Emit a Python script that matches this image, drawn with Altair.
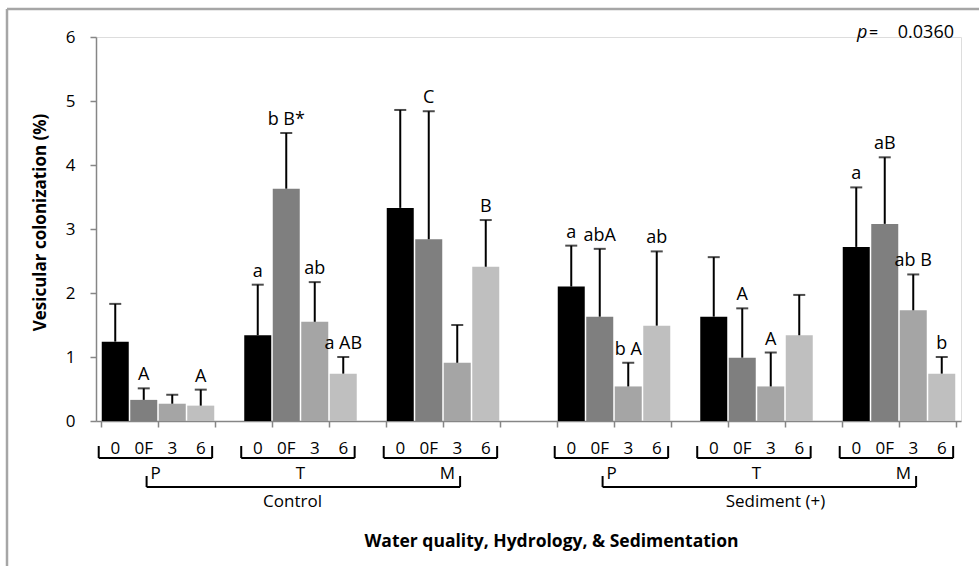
import altair as alt
import pandas as pd

FONT = "Open Sans"

blocks = ["Control", "Sediment (+)"]
sites = ["P", "T", "M"]
treatments = ["0", "0F", "3", "6"]
bar_colors = ["#000000", "#7f7f7f", "#a5a5a5", "#bfbfbf"]

# Mean colonization (%), ordered block -> site -> treatment
means = [1.24, 0.33, 0.27, 0.24,
         1.34, 3.63, 1.55, 0.74,
         3.33, 2.84, 0.91, 2.41,
         2.10, 1.63, 0.54, 1.49,
         1.63, 0.99, 0.54, 1.34,
         2.72, 3.08, 1.73, 0.74]

# Mean + standard error
upper = [1.83, 0.51, 0.41, 0.49,
         2.13, 4.50, 2.17, 1.00,
         4.86, 4.84, 1.50, 3.14,
         2.74, 2.69, 0.91, 2.65,
         2.56, 1.76, 1.07, 1.97,
         3.65, 4.12, 2.29, 1.00]

# Significance letters
letters = ["", "A", "", "A",
           "a", "b B*", "ab", "a AB",
           "", "C", "", "B",
           "a", "abA", "b A", "ab",
           "", "A", "A", "",
           "a", "aB", "ab B", "b"]

p_value = "0.0360"

# Category slots: 4 bars per site, one empty slot between sites,
# two empty slots between the two blocks (30 slots in total).
rows = []
i = 0
for b, block in enumerate(blocks):
    for s, site in enumerate(sites):
        for t, trt in enumerate(treatments):
            slot = b * 16 + s * 5 + t
            rows.append({"block": block, "site": site, "trt": trt,
                         "xc": slot + 0.5, "mean": means[i], "upper": upper[i],
                         "letter": letters[i]})
            i += 1
df = pd.DataFrame(rows)

site_rows = []
for b, block in enumerate(blocks):
    for s, site in enumerate(sites):
        start = b * 16 + s * 5
        site_rows.append({"block": block, "site": site,
                          "x0": start - 0.08, "x1": start + 4 - 0.1,
                          "center": start + 2})
sites_df = pd.DataFrame(site_rows)

block_rows = []
for b, block in enumerate(blocks):
    first = b * 16 + 2
    last = b * 16 + 12
    block_rows.append({"block": block, "x0": first - 0.4, "x1": last + 0.6,
                       "mid": b * 16 + 7})
blocks_df = pd.DataFrame(block_rows)

N_SLOTS = 30
W, H = 865, 384
PAD_L, PAD_T = 96, 37
LBL = 17  # label font size

x_scale = alt.Scale(domain=[0, N_SLOTS], nice=False, zero=False)
y_scale = alt.Scale(domain=[0, 6], nice=False)

x_axis = alt.Axis(values=list(range(N_SLOTS + 1)), labels=False, grid=False,
                  tickSize=6, tickColor="#868686", domainColor="#868686",
                  domainWidth=1.5, tickWidth=1.5,
                  title="Water quality, Hydrology, & Sedimentation",
                  titleFont=FONT, titleFontSize=17.5, titleFontWeight="bold",
                  titleColor="#000000", titleX=455, titleY=120,
                  titleBaseline="middle", titleAlign="center")
y_axis = alt.Axis(values=[0, 1, 2, 3, 4, 5, 6], format="d", grid=False,
                  tickSize=6, tickColor="#868686", domainColor="#868686",
                  domainWidth=1.5, tickWidth=1.5,
                  labelFont=FONT, labelFontSize=LBL, labelColor="#000000",
                  labelPadding=15,
                  title="Vesicular colonization (%)", titleFont=FONT,
                  titleFontSize=17, titleFontWeight="bold", titleColor="#000000",
                  titleX=-56, titleY=185, titleAngle=-90,
                  titleBaseline="middle", titleAlign="center")

base = alt.Chart(df)

bars = base.mark_bar(width=27).encode(
    x=alt.X("xc:Q", scale=x_scale, axis=x_axis),
    y=alt.Y("mean:Q", scale=y_scale, axis=y_axis),
    color=alt.Color("trt:N", scale=alt.Scale(domain=treatments, range=bar_colors),
                    legend=None),
)

err = base.mark_rule(color="black", strokeWidth=2).encode(
    x="xc:Q", y="mean:Q", y2="upper:Q"
)
caps = base.mark_tick(color="black", thickness=2, size=12,
                      orient="horizontal").encode(x="xc:Q", y="upper:Q")

labels = base.transform_filter(alt.datum.letter != "").mark_text(
    font=FONT, fontSize=18, baseline="alphabetic", dy=-8, color="black"
).encode(x="xc:Q", y="upper:Q", text="letter:N")

# First row under the axis: treatment names with a bracket per site
trt_text = base.mark_text(font=FONT, fontSize=LBL, baseline="middle",
                          color="black").encode(
    x="xc:Q", y=alt.value(449 - PAD_T), text="trt:N")

sb = alt.Chart(sites_df)
site_h = sb.mark_rule(color="black", strokeWidth=2).encode(
    x="x0:Q", x2="x1:Q", y=alt.value(458 - PAD_T))
site_l = sb.mark_rule(color="black", strokeWidth=2).encode(
    x="x0:Q", y=alt.value(446 - PAD_T), y2=alt.value(458 - PAD_T))
site_r = sb.mark_rule(color="black", strokeWidth=2).encode(
    x="x1:Q", y=alt.value(446 - PAD_T), y2=alt.value(458 - PAD_T))

# Second row: site names with a bracket per block
bb = alt.Chart(blocks_df)
blk_h = bb.mark_rule(color="black", strokeWidth=2).encode(
    x="x0:Q", x2="x1:Q", y=alt.value(487 - PAD_T))
blk_l = bb.mark_rule(color="black", strokeWidth=2).encode(
    x="x0:Q", y=alt.value(476 - PAD_T), y2=alt.value(487 - PAD_T))
blk_r = bb.mark_rule(color="black", strokeWidth=2).encode(
    x="x1:Q", y=alt.value(476 - PAD_T), y2=alt.value(487 - PAD_T))

site_y = alt.value(474 - PAD_T)
p_text = bb.mark_text(font=FONT, fontSize=LBL, align="left", baseline="middle",
                      dx=4).encode(x="x0:Q", y=site_y, text=alt.value("P"))
t_text = bb.mark_text(font=FONT, fontSize=LBL, align="center",
                      baseline="middle").encode(x="mid:Q", y=site_y,
                                                text=alt.value("T"))
m_text = bb.mark_text(font=FONT, fontSize=LBL, align="right", baseline="middle",
                      dx=-5).encode(x="x1:Q", y=site_y, text=alt.value("M"))

# Third row: block names
ctrl_text = bb.transform_filter(alt.datum.block == "Control").mark_text(
    font=FONT, fontSize=LBL, baseline="middle", dx=-8
).encode(x="mid:Q", y=alt.value(502 - PAD_T), text="block:N")
sed_text = bb.transform_filter(alt.datum.block == "Sediment (+)").mark_text(
    font=FONT, fontSize=LBL, baseline="middle", dx=19
).encode(x="mid:Q", y=alt.value(502 - PAD_T), text="block:N")

# p-value annotation: italic "p", "=", then the value
ann_y = alt.value(33 - PAD_T)
p_italic = alt.Chart(pd.DataFrame({"t": ["p"]})).mark_text(
    font=FONT, fontSize=18, fontStyle="italic", align="left", baseline="middle"
).encode(x=alt.value(857 - PAD_L), y=ann_y, text="t:N")
p_eq = alt.Chart(pd.DataFrame({"t": ["="]})).mark_text(
    font=FONT, fontSize=16, align="left", baseline="middle"
).encode(x=alt.value(869 - PAD_L), y=ann_y, text="t:N")
p_val = alt.Chart(pd.DataFrame({"t": [p_value]})).mark_text(
    font=FONT, fontSize=18, align="right", baseline="middle"
).encode(x=alt.value(954 - PAD_L), y=ann_y, text="t:N")

# Outer frame (left and top edges)
frame_df = pd.DataFrame({"k": [0]})
frame_left = alt.Chart(frame_df).mark_rule(color="#a6a6a6", strokeWidth=2.5).encode(
    x=alt.value(7 - PAD_L), y=alt.value(9 - PAD_T), y2=alt.value(566 - PAD_T + 5))
frame_top = alt.Chart(frame_df).mark_rule(color="#a6a6a6", strokeWidth=2.5).encode(
    x=alt.value(7 - PAD_L), x2=alt.value(979 - PAD_L + 5), y=alt.value(9 - PAD_T))

chart = alt.layer(
    frame_left, frame_top,
    bars, err, caps, labels, trt_text,
    site_h, site_l, site_r, blk_h, blk_l, blk_r,
    p_text, t_text, m_text, ctrl_text, sed_text,
    p_italic, p_eq, p_val,
).properties(
    width=W, height=H,
    autosize=alt.AutoSizeParams(type="none"),
    padding={"left": PAD_L, "top": PAD_T, "right": 979 - PAD_L - W,
             "bottom": 566 - PAD_T - H},
    background="white",
).configure_view(stroke=None).configure(font=FONT)

chart.save("out.html", embed_options={"renderer": "svg", "actions": False})
